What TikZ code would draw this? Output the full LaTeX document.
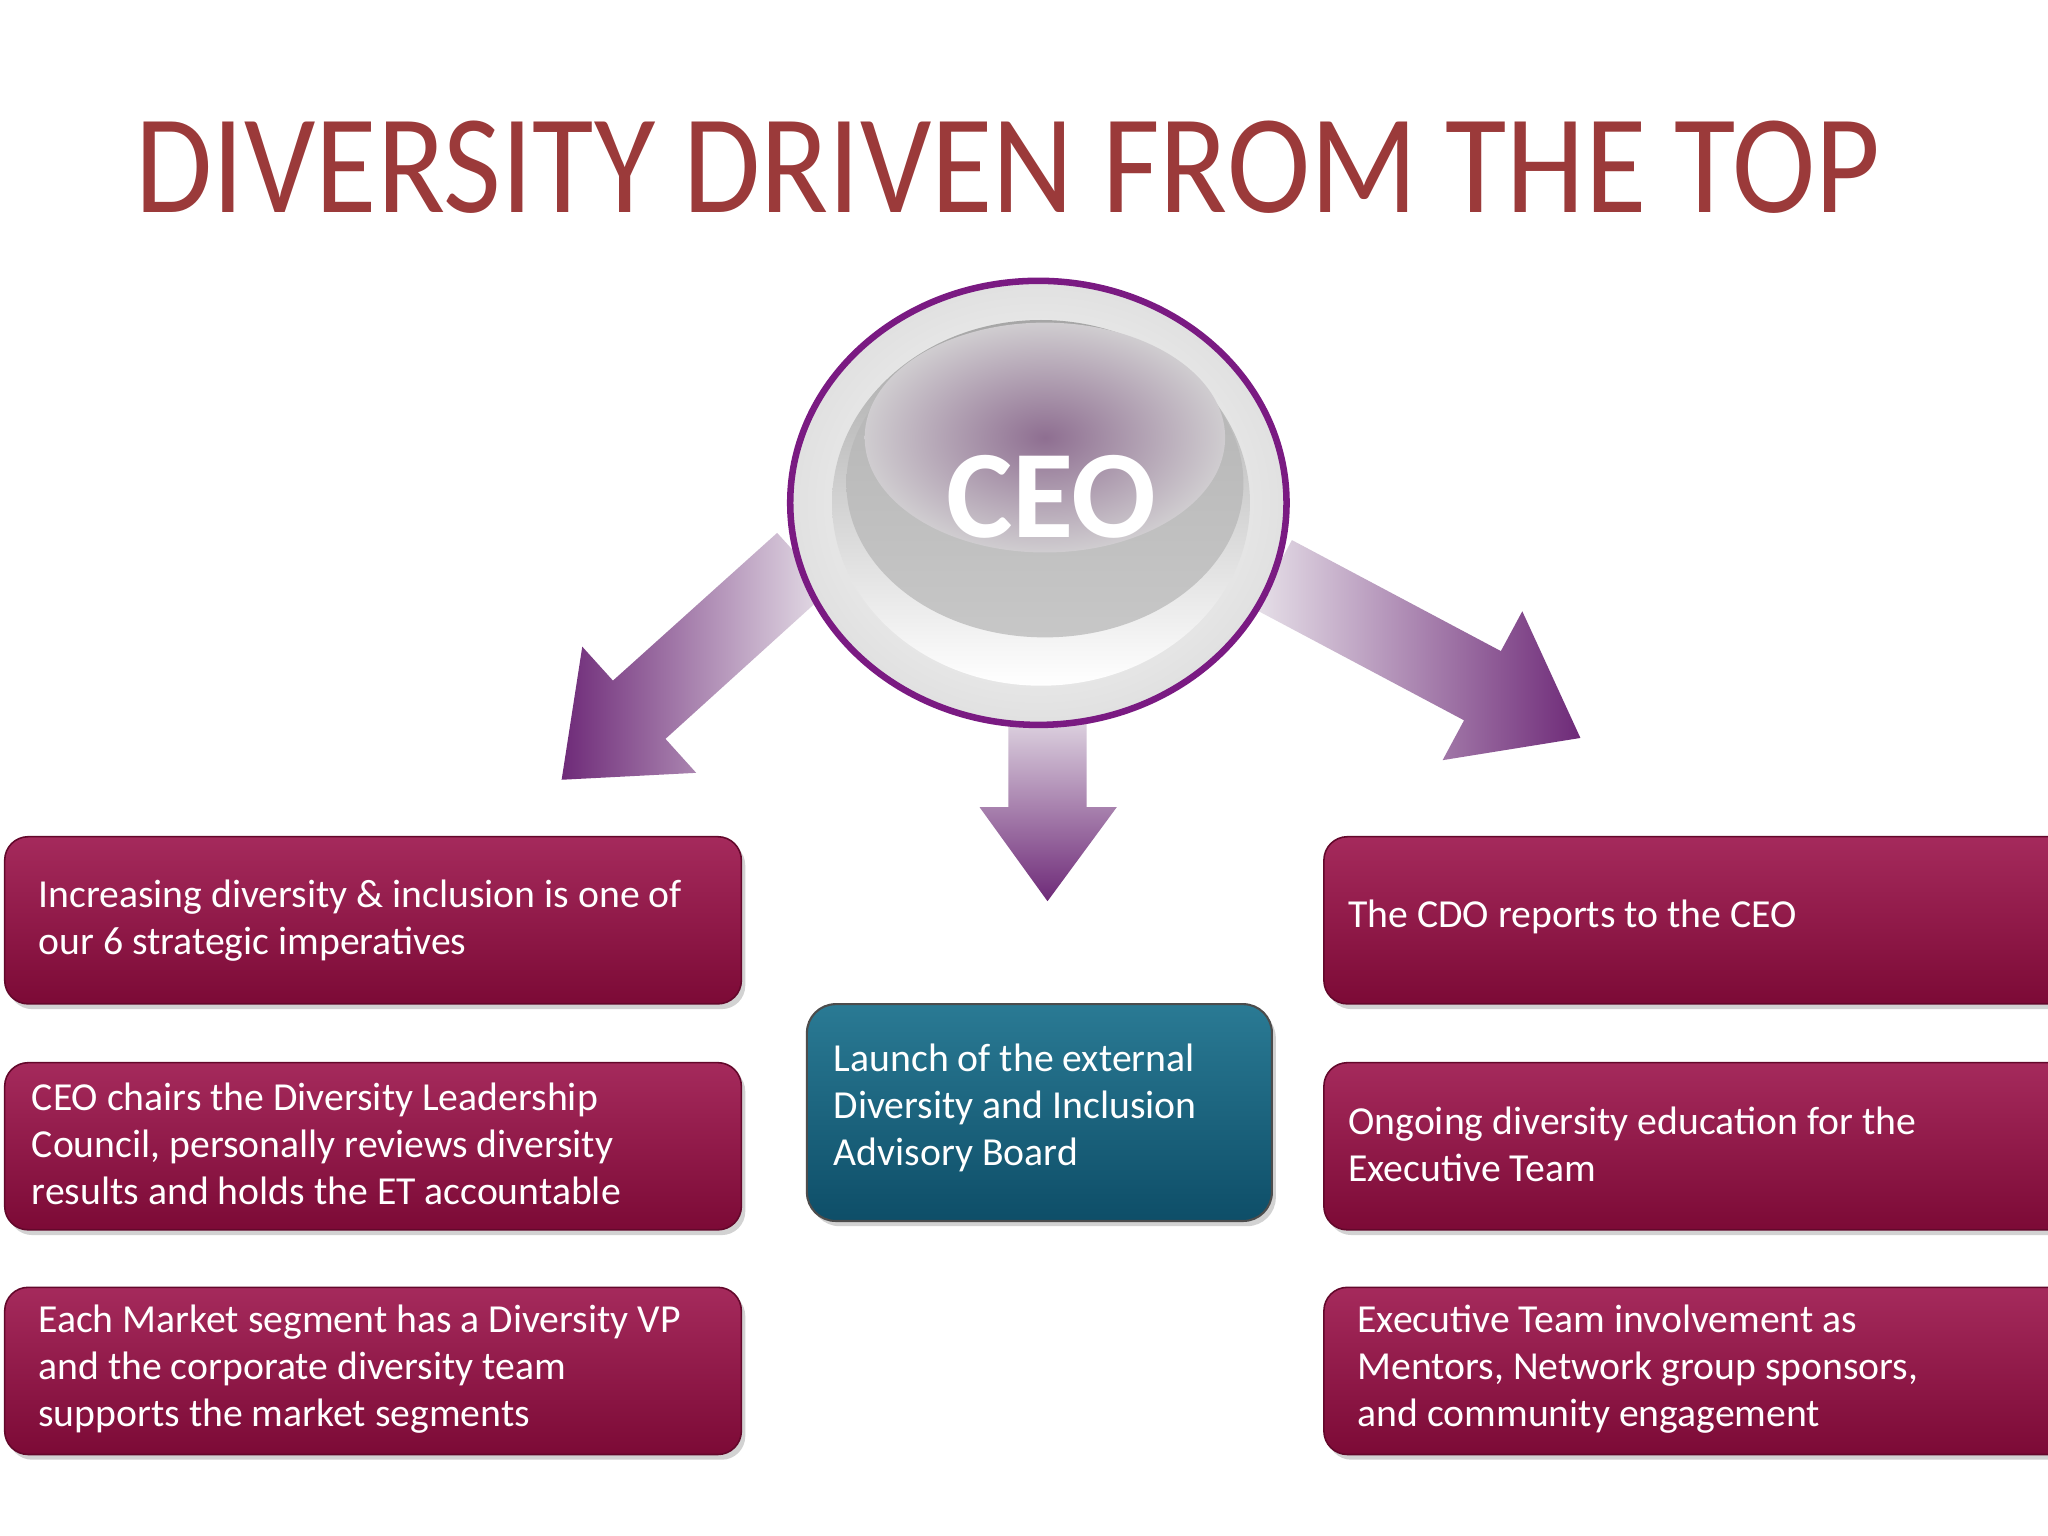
\documentclass[tikz,border=0pt]{standalone}
\usepackage{fontspec}
\setmainfont{Carlito}
\usetikzlibrary{shadows}
\definecolor{titlered}{HTML}{9B3A3A}
\definecolor{crimtop}{HTML}{A52A5C}
\definecolor{crimbot}{HTML}{7C0A36}
\definecolor{tealtop}{HTML}{2A7A94}
\definecolor{tealbot}{HTML}{0E4E68}
\definecolor{purp}{HTML}{7A1A82}
\definecolor{arrowdark}{HTML}{6E2A78}
\definecolor{arrowlight}{HTML}{E6E0E8}
\tikzset{
  redbox/.style={rounded corners=9pt, top color=crimtop, bottom color=crimbot, draw=crimbot!80!black, line width=0.6pt,
    drop shadow={shadow xshift=1.5pt, shadow yshift=-2pt, opacity=0.35}},
  tealbox/.style={rounded corners=11pt, top color=tealtop, bottom color=tealbot, draw=black!70, line width=0.8pt,
    drop shadow={shadow xshift=1.5pt, shadow yshift=-2pt, opacity=0.35}},
  boxtext/.style={text=white, font=\fontsize{15.2}{18}\selectfont, align=left, anchor=west, inner sep=0pt}
}
\begin{document}
\begin{tikzpicture}[x=0.5pt,y=-0.5pt]
\useasboundingbox (0,0) rectangle (1568,1176);
\fill[white] (0,0) rectangle (1568,1176);
\clip (0,0) rectangle (1568,1176);

\node[text=titlered, font=\fontsize{54}{60}\selectfont, xscale=0.89] (title) at (772,128) {DIVERSITY DRIVEN FROM THE TOP};

% arrows
\shade[left color=arrowdark, right color=arrowlight]
  (635,452) -- (509.5,565.7) -- (533,591.7) -- (430,597) -- (445.8,495.1) -- (469.3,521.1) -- (595,408) -- cycle;
\shade[left color=arrowlight, right color=arrowdark]
  (960.9,466.5) -- (1120.9,551.5) -- (1104.5,582) -- (1210,565) -- (1165.5,468) -- (1149.1,498.5) -- (989.1,413.5) -- cycle;
\shade[top color=arrowlight, bottom color=arrowdark]
  (772,540) -- (772,618) -- (750,618) -- (802,690) -- (855,618) -- (832,618) -- (832,540) -- cycle;

% CEO circle
\shade[inner color=white, outer color=black!12, draw=purp, line width=2.5pt] (795,385) ellipse (190 and 170);
\shade[top color=black!35, bottom color=white] (797,385) ellipse (160 and 140);
\shade[top color=black!30, bottom color=black!22] (800,370) ellipse (152 and 118);
\shade[inner color=purp!55!black!60, outer color=purp!15!black!20] (800,335) ellipse (138 and 88);
\node[text=white, font=\fontsize{48}{50}\selectfont\bfseries] (ceo) at (805,380) {CEO};

% left boxes
\node[redbox, minimum width=282pt, minimum height=64pt, anchor=north west] (l1) at (3,640) {};
\node[boxtext] at (29,705) {Increasing diversity \& inclusion is one of\\our 6 strategic imperatives};
\node[redbox, minimum width=282pt, minimum height=64pt, anchor=north west] (l2) at (3,813) {};
\node[boxtext] at (24,876) {CEO chairs the Diversity Leadership\\Council, personally reviews diversity\\results and holds the ET accountable};
\node[redbox, minimum width=282pt, minimum height=64pt, anchor=north west] (l3) at (3,985) {};
\node[boxtext] at (29,1048) {Each Market segment has a Diversity VP\\and the corporate diversity team\\supports the market segments};

% middle box
\node[tealbox, minimum width=178pt, minimum height=83pt, anchor=north west] (m) at (617,768) {};
\node[boxtext] at (638,848) {Launch of the external\\Diversity and Inclusion\\Advisory Board};

% right boxes
\node[redbox, minimum width=290pt, minimum height=64pt, anchor=north west] (r1) at (1013,640) {};
\node[boxtext] at (1032,702) {The CDO reports to the CEO};
\node[redbox, minimum width=290pt, minimum height=64pt, anchor=north west] (r2) at (1013,813) {};
\node[boxtext] at (1032,876) {Ongoing diversity education for the\\Executive Team};
\node[redbox, minimum width=290pt, minimum height=64pt, anchor=north west] (r3) at (1013,985) {};
\node[boxtext] at (1039,1048) {Executive Team involvement as\\Mentors, Network group sponsors,\\and community engagement};
\end{tikzpicture}
\end{document}
